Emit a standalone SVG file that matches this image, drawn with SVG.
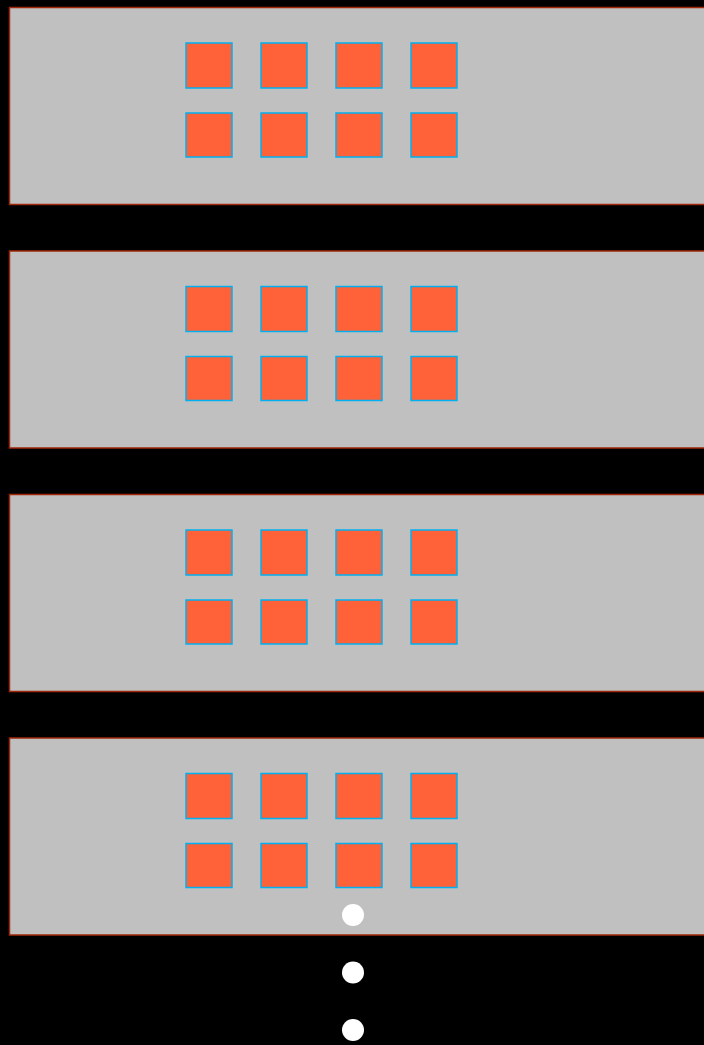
<svg xmlns="http://www.w3.org/2000/svg" width="704" height="1045" viewBox="0 0 704 1045">
<style>
.panel{fill:#c0c0c0;stroke:#a0280a;stroke-width:1.5}
.cell{fill:#ff6138;stroke:#00b0f0;stroke-width:1.5}
.dot{fill:#ffffff}
</style>
<defs>
<g id="cells">
<rect class="cell" x="186" y="43" width="46" height="45"/>
<rect class="cell" x="261" y="43" width="46" height="45"/>
<rect class="cell" x="336" y="43" width="46" height="45"/>
<rect class="cell" x="411" y="43" width="46" height="45"/>
<rect class="cell" x="186" y="113" width="46" height="44"/>
<rect class="cell" x="261" y="113" width="46" height="44"/>
<rect class="cell" x="336" y="113" width="46" height="44"/>
<rect class="cell" x="411" y="113" width="46" height="44"/>
</g>
</defs>
<rect x="0" y="0" width="704" height="1045" fill="#000000"/>
<g id="panel1">
<rect class="panel" x="9.5" y="7.5" width="720" height="197"/>
<use href="#cells"/>
</g>
<g id="panel2" transform="translate(0,243.5)">
<rect class="panel" x="9.5" y="7.5" width="720" height="197"/>
<use href="#cells"/>
</g>
<g id="panel3" transform="translate(0,487)">
<rect class="panel" x="9.5" y="7.5" width="720" height="197"/>
<use href="#cells"/>
</g>
<g id="panel4" transform="translate(0,730.5)">
<rect class="panel" x="9.5" y="7.5" width="720" height="197"/>
<use href="#cells"/>
</g>
<g id="ellipsis">
<circle class="dot" cx="353" cy="915" r="11"/>
<circle class="dot" cx="353" cy="972.5" r="11"/>
<circle class="dot" cx="353" cy="1030" r="11"/>
</g>
<g id="connectors"></g>
</svg>
